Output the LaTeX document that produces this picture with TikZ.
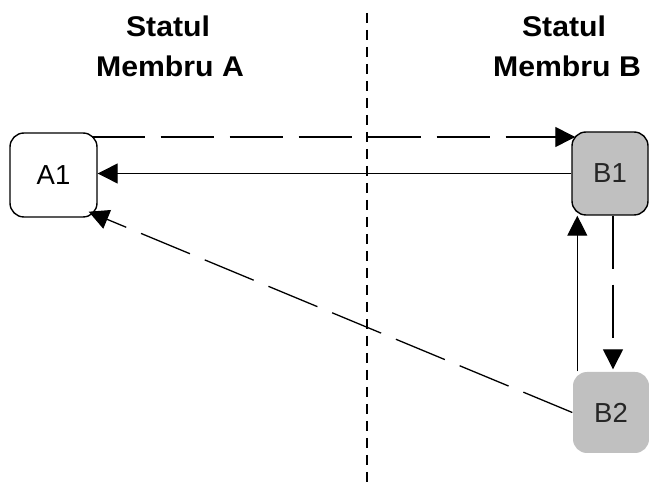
\documentclass[tikz,border=0pt]{standalone}
\usepackage{fontspec}
\setmainfont{Liberation Sans}
\newfontfamily\titlefont[FakeStretch=1.06]{Liberation Sans}
\usetikzlibrary{arrows.meta}
\definecolor{boxgray}{HTML}{C0C0C0}
\begin{document}
\begin{tikzpicture}[x=1pt,y=-1pt,
  title/.style={anchor=base,inner sep=0pt,font=\titlefont\bfseries\fontsize{28.5}{32}\selectfont},
  statebox/.style={rectangle,rounded corners=14pt,minimum width=87pt,minimum height=84pt,inner sep=0pt,line width=1.4pt,font=\fontsize{27.5}{30}\selectfont},
  longdash/.style={line width=1.3pt,dash pattern=on 53pt off 16pt},
  conn/.style={line width=1.2pt,-{Triangle[length=20pt,width=20pt]}},
  divider/.style={line width=1.3pt,dash pattern=on 10pt off 7pt}
]
\useasboundingbox (0,0) rectangle (649,486);
% titles
\node[title] (tA1) at (168,37) {Statul};
\node[title] (tA2) at (170,77) {Membru A};
\node[title] (tB1) at (564,37) {Statul};
\node[title] (tB2) at (567,77) {Membru B};
% divider
\coordinate (dtop) at (367,13);
\coordinate (dbot) at (367,486);
\draw[divider] (dtop) -- (dbot);
% nodes
\node[statebox,draw=black,fill=white] (A1) at (53.5,175) {A1};
\node[statebox,draw=black,fill=boxgray,minimum width=76pt,minimum height=83pt,text=black!85] (B1) at (610,173.5) {B1};
\node[statebox,fill=boxgray,minimum width=76pt,minimum height=81pt,text=black!85] (B2) at (611,412.5) {B2};
% connectors
\draw[conn,longdash] ([xshift=-6pt,yshift=38pt]A1.east) -- ([xshift=4pt,yshift=36.5pt]B1.west);
\draw[conn] (B1.west) -- (A1.east |- B1.west);
\draw[conn,longdash] (B2.west) -- ([xshift=-9pt,yshift=6pt]A1.south east);
\draw[conn] ([xshift=5pt]B2.north west) -- ([xshift=5pt]B2.north west |- B1.south);
\draw[conn,longdash] ([xshift=3pt]B1.south) -- ([xshift=3pt,yshift=2pt]B1.south |- B2.north);
\end{tikzpicture}
\end{document}
